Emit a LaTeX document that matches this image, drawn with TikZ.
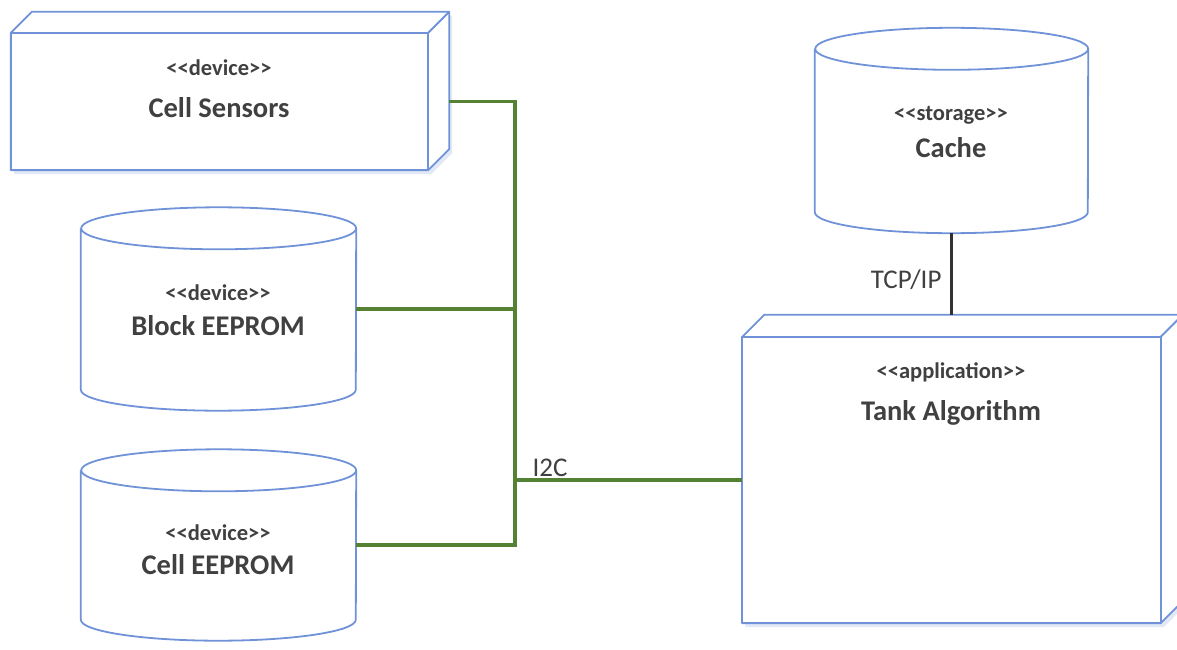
\documentclass[tikz,border=0pt]{standalone}
\usepackage{fontspec}
\setmainfont{Carlito}
\usetikzlibrary{calc}
\definecolor{edge}{RGB}{112,146,216}
\definecolor{ghost}{RGB}{226,232,245}
\definecolor{wire}{RGB}{84,130,50}
\definecolor{ink}{RGB}{64,64,64}
\definecolor{link}{RGB}{50,50,50}

\tikzset{
  outline/.style={draw=edge, line width=1.8pt, fill=white, line join=round},
  frame/.style={minimum width=#1, inner sep=0pt},
  stereo/.style={text=ink, font=\fontsize{22.5}{26}\selectfont\bfseries},
  title/.style={text=ink, font=\fontsize{28.5}{32}\selectfont\bfseries},
  tag/.style={text=ink, font=\fontsize{27}{30}\selectfont},
  bus/.style={draw=wire, line width=3.6pt},
  plain/.style={draw=link, line width=2.2pt},
}

% 3D UML node: front face given by a named rectangle, depth offset (d,-d)
\newcommand{\umlnode}[2]{%
  \fill[ghost] ($(#1.north west)+(3,4)$) -- ++(#2,-#2) -- ($(#1.north east)+(#2+3,-#2+4)$)
      -- ($(#1.south east)+(#2+3,-#2+4)$) -- ($(#1.south east)+(3,4)$)
      -- ($(#1.south west)+(3,4)$) -- cycle;
  \draw[outline] (#1.north west) -- ++(#2,-#2) -- ($(#1.north east)+(#2,-#2)$)
      -- ($(#1.south east)+(#2,-#2)$) -- (#1.south east) -- (#1.south west) -- cycle;
  \draw[outline] (#1.north east) -- ++(#2,-#2);
  \draw[outline] (#1.south west) rectangle (#1.north east);
}
% cylinder around a named rectangle; #2 = horizontal, #3 = vertical radius of the ends
\newcommand{\umlcyl}[3]{%
  \draw[outline]
    ($(#1.north west)+(0,#3)$) -- ($(#1.south west)+(0,-#3)$)
    arc[start angle=180, end angle=0, x radius=#2, y radius=#3]
    -- ($(#1.north east)+(0,#3)$)
    arc[start angle=0, end angle=180, x radius=#2, y radius=#3]
    arc[start angle=180, end angle=360, x radius=#2, y radius=#3];
}

\begin{document}
\begin{tikzpicture}[x=1pt, y=-1pt]
\useasboundingbox (0,0) rectangle (1177,650);
\fill[white] (0,0) rectangle (1177,650);

% frames of the shapes
\node[frame=417pt, minimum height=137pt] (cs)    at (219.5,101.5) {};
\node[frame=418pt, minimum height=286pt] (tank)  at (951.5,480) {};
\node[frame=275pt, minimum height=203pt] (blk)   at (218.5,309) {};
\node[frame=275pt, minimum height=191pt] (cell)  at (218.5,545) {};
\node[frame=273pt, minimum height=205pt] (cache) at (951.5,130.5) {};

\umlnode{cs}{21}
\umlnode{tank}{22}
\umlcyl{blk}{137.5}{21}
\umlcyl{cell}{137.5}{21}
\umlcyl{cache}{136.5}{21}

% texts
\node[stereo] (cs-s)    at (219,68)  {{<}{<}device{>}{>}};
\node[title]  (cs-t)    at (219,108) {Cell Sensors};
\node[stereo] (blk-s)   at (218,293) {{<}{<}device{>}{>}};
\node[title]  (blk-t)   at (218,326) {Block EEPROM};
\node[stereo] (cell-s)  at (218,533) {{<}{<}device{>}{>}};
\node[title]  (cell-t)  at (218,565) {Cell EEPROM};
\node[stereo] (cache-s) at (951,115) {{<}{<}storage{>}{>}};
\node[title]  (cache-t) at (951,148) {Cache};
\node[stereo] (tank-s)  at (951,372) {{<}{<}application{>}{>}};
\node[title]  (tank-t)  at (951,413) {Tank Algorithm};

% I2C bus
\coordinate (busx) at (515,0);
\draw[bus] ($(cs.east)+(21,0)$) -| (busx |- cell.east) -- (cell.east);
\draw[bus] (blk.east) -- (blk.east -| busx);
\draw[bus] (tank.west) -- (tank.west -| busx);
\node[tag, anchor=base west] (i2c) at (529,476) {I2C};

% TCP/IP link
\draw[plain] (cache.south) -- ($(tank.north)+(0,-22)$);
\node[tag, anchor=base east] (tcp) at (945,288) {TCP/IP};
\end{tikzpicture}
\end{document}
